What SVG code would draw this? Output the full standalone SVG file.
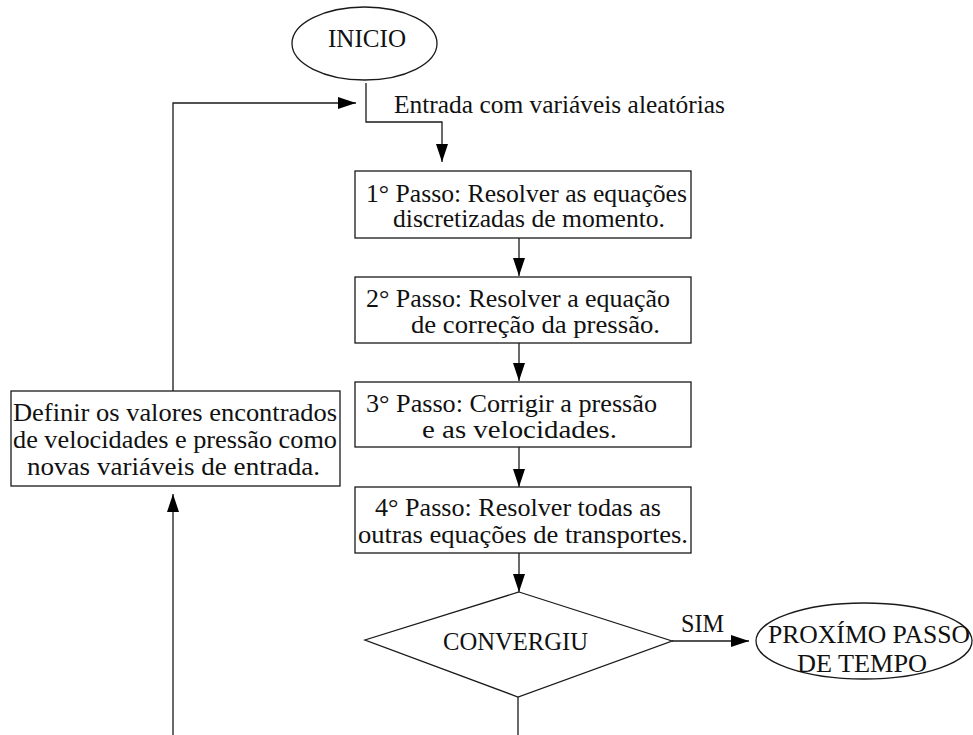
<svg xmlns="http://www.w3.org/2000/svg" width="973" height="735" viewBox="0 0 973 735">
<style>
.t{font-family:"Liberation Serif","Times New Roman",serif;font-size:25px;fill:#111}
.s{fill:#fff;stroke:#1a1a1a;stroke-width:1.3}
.c{fill:none;stroke:#1a1a1a;stroke-width:1.3}
</style>
<defs>
<marker id="ah" markerUnits="userSpaceOnUse" markerWidth="18" markerHeight="12" refX="18" refY="6" orient="auto" viewBox="0 0 18 12">
<path d="M0,0 L18,6 L0,12 z" fill="#000"/>
</marker>
</defs>
<rect width="973" height="735" fill="#fff"/>
<g id="connectors">
<path class="c" d="M366,83 V122 H442 V162" marker-end="url(#ah)"/>
<path class="c" d="M519,238 V276" marker-end="url(#ah)"/>
<path class="c" d="M519,343 V381" marker-end="url(#ah)"/>
<path class="c" d="M519,447 V487" marker-end="url(#ah)"/>
<path class="c" d="M519,553 V592" marker-end="url(#ah)"/>
<path class="c" d="M672,641 H749" marker-end="url(#ah)"/>
<path class="c" d="M518,697 V735"/>
<path class="c" d="M173,735 V494" marker-end="url(#ah)"/>
<path class="c" d="M173,391 V103 H356" marker-end="url(#ah)"/>
<text class="t" x="394" y="113" textLength="331" lengthAdjust="spacingAndGlyphs">Entrada com variáveis aleatórias</text>
<text class="t" x="681" y="632" textLength="43" lengthAdjust="spacingAndGlyphs">SIM</text>
</g>
<g id="inicio">
<ellipse class="s" cx="364.5" cy="43.5" rx="72.5" ry="36.5"/>
<text class="t" x="328" y="47" textLength="78" lengthAdjust="spacingAndGlyphs">INICIO</text>
</g>
<g id="passo1">
<rect class="s" x="355" y="171" width="336" height="67"/>
<text class="t" x="366" y="202" textLength="321" lengthAdjust="spacingAndGlyphs">1° Passo: Resolver as equações</text>
<text class="t" x="393" y="227" textLength="272" lengthAdjust="spacingAndGlyphs">discretizadas de momento.</text>
</g>
<g id="passo2">
<rect class="s" x="355" y="277" width="336" height="66"/>
<text class="t" x="366" y="307" textLength="304" lengthAdjust="spacingAndGlyphs">2° Passo: Resolver a equação</text>
<text class="t" x="411" y="333" textLength="249" lengthAdjust="spacingAndGlyphs">de correção da pressão.</text>
</g>
<g id="passo3">
<rect class="s" x="355" y="382" width="336" height="65"/>
<text class="t" x="366" y="412" textLength="291" lengthAdjust="spacingAndGlyphs">3° Passo: Corrigir a pressão</text>
<text class="t" x="422" y="438" textLength="195" lengthAdjust="spacingAndGlyphs">e as velocidades.</text>
</g>
<g id="passo4">
<rect class="s" x="355" y="487" width="336" height="66"/>
<text class="t" x="375" y="516" textLength="286" lengthAdjust="spacingAndGlyphs">4° Passo: Resolver todas as</text>
<text class="t" x="358" y="543" textLength="330" lengthAdjust="spacingAndGlyphs">outras equações de transportes.</text>
</g>
<g id="definir">
<rect class="s" x="11" y="391" width="329" height="95"/>
<text class="t" x="13" y="421" textLength="324" lengthAdjust="spacingAndGlyphs">Definir os valores encontrados</text>
<text class="t" x="13" y="448" textLength="324" lengthAdjust="spacingAndGlyphs">de velocidades e pressão como</text>
<text class="t" x="27" y="475" textLength="293" lengthAdjust="spacingAndGlyphs">novas variáveis de entrada.</text>
</g>
<g id="convergiu">
<polygon class="s" points="519,592 672,641 518,697 365,640"/>
<text class="t" x="443" y="650" textLength="145" lengthAdjust="spacingAndGlyphs">CONVERGIU</text>
</g>
<g id="proximo">
<ellipse class="s" cx="864" cy="641" rx="108" ry="38"/>
<text class="t" x="768" y="643" textLength="202" lengthAdjust="spacingAndGlyphs">PROXÍMO PASSO</text>
<text class="t" x="797" y="672" textLength="130" lengthAdjust="spacingAndGlyphs">DE TEMPO</text>
</g>
</svg>
